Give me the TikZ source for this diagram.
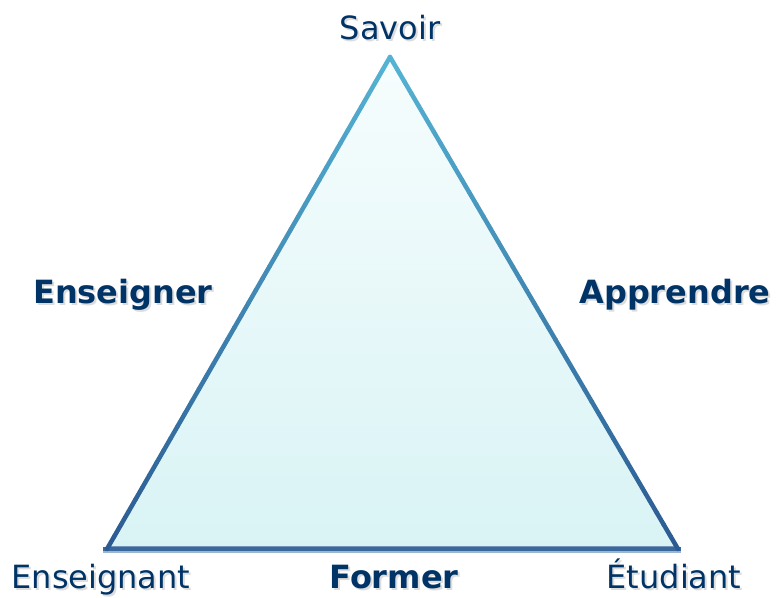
\documentclass[tikz,border=0pt]{standalone}
\usepackage{fontspec}
\setmainfont{DejaVu Sans}
\usetikzlibrary{calc}
\definecolor{txt}{HTML}{003366}
\definecolor{shd}{HTML}{DDDDDD}
\definecolor{edgetop}{HTML}{55B3D3}
\definecolor{edgebot}{HTML}{2B5A92}
\definecolor{filltop}{HTML}{F6FDFD}
\definecolor{fillbot}{HTML}{D9F3F5}
\definecolor{basedark}{HTML}{3A679C}
\definecolor{baselight}{HTML}{9DB6CF}
\newcommand{\shtext}[1]{\rlap{\color{shd}\kern2pt\raisebox{-2pt}{#1}}#1}
\tikzset{
  lbl/.style={text=txt, font=\fontsize{32}{36}\selectfont, anchor=base, inner sep=0pt},
  blbl/.style={lbl, font=\fontsize{32}{36}\selectfont\bfseries},
}
\begin{document}
\begin{tikzpicture}[x=1pt,y=1pt]
\useasboundingbox (0,0) rectangle (776,597);
\coordinate (S) at (390,540);
\coordinate (L) at (107,48);
\coordinate (R) at (678,48);
% fill
\shade[top color=filltop, bottom color=fillbot] (S) -- (L) -- (R) -- cycle;
% base edge
\draw[baselight, line width=2] ($(L)+(-4,-3)$) -- ($(R)+(3,-3)$);
\draw[basedark, line width=4] ($(L)+(-4,0)$) -- ($(R)+(3,0)$);
\draw[basedark!70!white, line width=1] ($(L)+(0,2.5)$) -- ($(R)+(0,2.5)$);
% sloped edges with gradient (dark at the bottom, light at the top)
\foreach \i in {0,...,39}{
  \pgfmathsetmacro{\p}{100-100*(\i+0.5)/40}
  \draw[edgebot!\p!edgetop, line width=4.5, line cap=round]
    ($(L)!{\i/40}!(S)$) -- ($(L)!{(\i+1)/40}!(S)$);
  \draw[edgebot!\p!edgetop, line width=4.5, line cap=round]
    ($(R)!{\i/40}!(S)$) -- ($(R)!{(\i+1)/40}!(S)$);
}
% labels
\node[lbl] (savoir) at (390,557) {\shtext{Savoir}};
\node[lbl] (enseignant) at (101,9) {\shtext{Enseignant}};
\node[lbl] (etudiant) at (674,9) {\shtext{Étudiant}};
\node[blbl] (enseigner) at (123,293) {\shtext{Enseigner}};
\node[blbl] (apprendre) at (675,293) {\shtext{Apprendre}};
\node[blbl] (former) at (394,9) {\shtext{Former}};
\end{tikzpicture}
\end{document}
